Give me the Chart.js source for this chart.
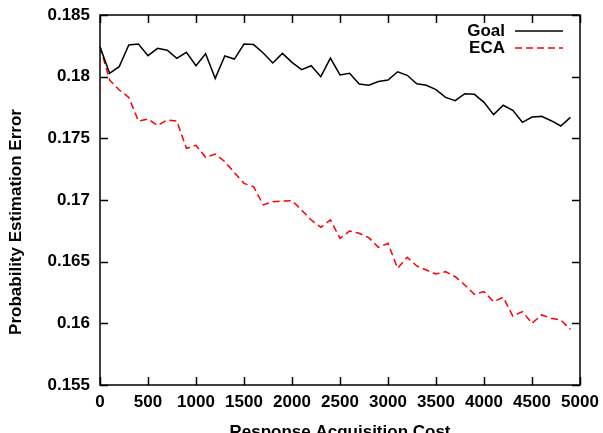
<!DOCTYPE html>
<html>
<head>
<meta charset="utf-8">
<script src="https://cdn.jsdelivr.net/npm/chart.js@4/dist/chart.umd.min.js"></script>
<style>
    html, body { margin: 0; padding: 0; background: #fff; }
    #wrap { width: 603px; height: 433px; position: relative; }
</style>
</head>
<body>
<div id="wrap"><canvas id="errChart" width="603" height="433"></canvas></div>
<script>
// 数据
const costs = [0, 100, 200, 300, 400, 500, 600, 700, 800, 900,
    1000, 1100, 1200, 1300, 1400, 1500, 1600, 1700, 1800, 1900,
    2000, 2100, 2200, 2300, 2400, 2500, 2600, 2700, 2800, 2900,
    3000, 3100, 3200, 3300, 3400, 3500, 3600, 3700, 3800, 3900,
    4000, 4100, 4200, 4300, 4400, 4500, 4600, 4700, 4800, 4900];

const goalErr = [0.18243, 0.18027, 0.18081, 0.18257, 0.18265, 0.1817, 0.1823, 0.18214, 0.18149, 0.18197,
    0.18089, 0.18186, 0.17986, 0.18168, 0.18143, 0.18265, 0.1826, 0.18192, 0.18111, 0.18189,
    0.18116, 0.18057, 0.18089, 0.18, 0.18151, 0.18014, 0.18027, 0.17941, 0.1793, 0.1796,
    0.17973, 0.1804, 0.18011, 0.17943, 0.1793, 0.17895, 0.17832, 0.17805, 0.17862, 0.17857,
    0.17792, 0.17692, 0.17768, 0.17727, 0.1763, 0.17673, 0.17678, 0.17643, 0.176, 0.1767];

const ecaErr = [0.18243, 0.17973, 0.17892, 0.17832, 0.1764, 0.17657, 0.17603, 0.17649, 0.1764, 0.17419,
    0.17443, 0.17346, 0.17373, 0.17311, 0.17222, 0.17135, 0.17108, 0.1696, 0.16986, 0.16992,
    0.16995, 0.16919, 0.16838, 0.16778, 0.16838, 0.16689, 0.16749, 0.1673, 0.16695, 0.16616,
    0.16649, 0.16446, 0.16535, 0.16465, 0.16432, 0.164, 0.16419, 0.16378, 0.16311, 0.16235,
    0.16257, 0.16176, 0.16211, 0.16059, 0.16095, 0.16, 0.16068, 0.16041, 0.16027, 0.15951];

const xTicks = [0, 500, 1000, 1500, 2000, 2500, 3000, 3500, 4000, 4500, 5000];
const yTicks = [0.155, 0.16, 0.165, 0.17, 0.175, 0.18, 0.185];

const seriesNames = ['Goal', 'ECA'];
const xTitle = 'Response Acquisition Cost';
const yTitle = 'Probability Estimation Error';

const FONT = '"Liberation Sans", Arial, Helvetica, sans-serif';

function toPoints(ys) {
    return costs.map((c, i) => ({ x: c, y: ys[i] }));
}

// 边框、向内刻度、标题和图例 (gnuplot 风格)
const framePlugin = {
    id: 'frame',
    afterDraw(chart) {
        const ctx = chart.ctx;
        const a = chart.chartArea;
        const xs = chart.scales.x;
        const ys = chart.scales.y;
        const tl = 8;

        ctx.save();
        ctx.strokeStyle = '#000';
        ctx.lineWidth = 1.5;
        ctx.strokeRect(a.left, a.top, a.right - a.left, a.bottom - a.top);

        ctx.beginPath();
        xTicks.forEach(v => {
            const px = Math.round(xs.getPixelForValue(v)) + 0.5;
            ctx.moveTo(px, a.bottom); ctx.lineTo(px, a.bottom - tl);
            ctx.moveTo(px, a.top); ctx.lineTo(px, a.top + tl);
        });
        yTicks.forEach(v => {
            const py = Math.round(ys.getPixelForValue(v)) + 0.5;
            ctx.moveTo(a.left, py); ctx.lineTo(a.left + tl, py);
            ctx.moveTo(a.right, py); ctx.lineTo(a.right - tl, py);
        });
        ctx.stroke();

        // 轴标题
        ctx.fillStyle = '#000';
        ctx.font = 'bold 17px ' + FONT;
        ctx.textAlign = 'center';
        ctx.textBaseline = 'alphabetic';
        ctx.fillText(xTitle, (a.left + a.right) / 2, 437);

        ctx.save();
        ctx.translate(21, 222);
        ctx.rotate(-Math.PI / 2);
        ctx.fillText(yTitle, 0, 0);
        ctx.restore();

        // 图例
        const rows = [
            { y: 31, ds: chart.data.datasets[0] },
            { y: 48, ds: chart.data.datasets[1] }
        ];
        ctx.textAlign = 'right';
        ctx.textBaseline = 'middle';
        rows.forEach(r => {
            ctx.fillStyle = '#000';
            ctx.fillText(r.ds.label, 505, r.y);
            ctx.beginPath();
            ctx.strokeStyle = r.ds.borderColor;
            ctx.lineWidth = r.ds.borderWidth;
            ctx.setLineDash(r.ds.borderDash || []);
            ctx.moveTo(515, r.y);
            ctx.lineTo(563, r.y);
            ctx.stroke();
            ctx.setLineDash([]);
        });
        ctx.restore();
    }
};

new Chart(document.getElementById('errChart').getContext('2d'), {
    type: 'line',
    data: {
        datasets: [
            {
                label: seriesNames[0],
                data: toPoints(goalErr),
                borderColor: '#000000',
                borderWidth: 1.5,
                pointRadius: 0,
                tension: 0,
                fill: false
            },
            {
                label: seriesNames[1],
                data: toPoints(ecaErr),
                borderColor: '#ff0000',
                borderWidth: 1.5,
                borderDash: [7, 4],
                pointRadius: 0,
                tension: 0,
                fill: false
            }
        ]
    },
    options: {
        responsive: false,
        animation: false,
        devicePixelRatio: 1,
        layout: { padding: { left: 0, right: 23, top: 15, bottom: 0 } },
        scales: {
            x: {
                type: 'linear',
                min: 0,
                max: 5000,
                afterBuildTicks(scale) { scale.ticks = xTicks.map(v => ({ value: v })); },
                afterFit(scale) {
                    scale.height = 48;
                    scale.paddingLeft = 0;
                    scale.paddingRight = 0;
                },
                ticks: {
                    color: '#000',
                    font: { family: FONT, size: 17, weight: 'bold' },
                    padding: 7,
                    maxRotation: 0,
                    autoSkip: false,
                    callback: v => String(v)
                },
                grid: { display: false, drawTicks: false },
                border: { display: false }
            },
            y: {
                type: 'linear',
                min: 0.155,
                max: 0.185,
                afterBuildTicks(scale) { scale.ticks = yTicks.map(v => ({ value: v })); },
                afterFit(scale) {
                    scale.width = 100;
                    scale.paddingTop = 0;
                    scale.paddingBottom = 0;
                },
                ticks: {
                    color: '#000',
                    font: { family: FONT, size: 17, weight: 'bold' },
                    padding: 10,
                    autoSkip: false,
                    callback: v => String(+v.toFixed(3))
                },
                grid: { display: false, drawTicks: false },
                border: { display: false }
            }
        },
        plugins: {
            legend: { display: false },
            tooltip: { enabled: false }
        }
    },
    plugins: [framePlugin]
});
</script>
</body>
</html>
